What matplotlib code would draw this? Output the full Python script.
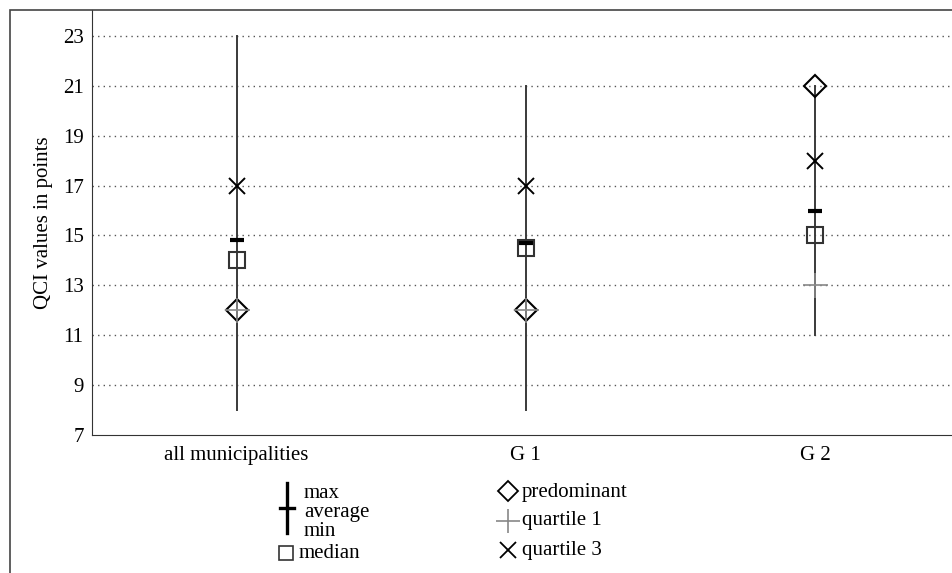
import matplotlib
matplotlib.use("Agg")
import matplotlib.pyplot as plt
from matplotlib.patches import Rectangle

plt.rcParams['font.family'] = ['Liberation Serif', 'DejaVu Serif']
plt.rcParams['font.size'] = 15

# QCI statistics per group
groups = ['all municipalities', 'G 1', 'G 2']
v_max = [23, 21, 21]
v_min = [8, 8, 11]
v_avg = [14.8, 14.7, 16]
v_median = [14, 14.5, 15]
v_predominant = [12, 12, 21]
v_q1 = [12, 12, 13]
v_q3 = [17, 17, 18]
yticks = [7, 9, 11, 13, 15, 17, 19, 21, 23]

W, H = 952, 573
fig = plt.figure(figsize=(W / 100, H / 100), dpi=100)

# outer frame (cut off on the right and bottom like the original)
fig.add_artist(Rectangle((10 / W, -0.05), 1.1, 1 - 10 / H + 0.05, transform=fig.transFigure,
                         fill=False, edgecolor='#444444', lw=1.2))

ax = fig.add_axes([92 / W, 1 - 435 / H, (959.5 - 92) / W, (435 - 10) / H])
x = list(range(len(groups)))

for i in x:
    ax.plot([i, i], [v_min[i], v_max[i]], color='#3a3a3a', lw=1.4, zorder=3)
ax.plot(x, v_avg, linestyle='none', marker='_', markersize=10.5, markeredgewidth=3,
        color='black', zorder=4)
ax.plot(x, v_median, linestyle='none', marker='s', markersize=11, markerfacecolor='none',
        markeredgecolor='#333333', markeredgewidth=1.5, zorder=4)
ax.plot(x, v_predominant, linestyle='none', marker='D', markersize=11, markerfacecolor='none',
        markeredgecolor='black', markeredgewidth=1.5, zorder=4)
ax.plot(x, v_q1, linestyle='none', marker='+', markersize=18, markeredgewidth=1.2,
        color='#888888', zorder=4)
ax.plot(x, v_q3, linestyle='none', marker='x', markersize=12, markeredgewidth=1.4,
        color='black', zorder=4)

ax.set_xlim(-0.5, 2.5)
ax.set_ylim(7, 7 + (435 - 10) / 24.94)
ax.set_xticks(x)
ax.set_xticklabels(groups)
ax.set_yticks(yticks)
ax.tick_params(length=0, pad=6)
ax.tick_params(axis='x', pad=8)
for t in yticks[1:]:
    ax.axhline(t, color='#555555', lw=1, linestyle=(0, (1, 3)), zorder=1)
ax.spines['top'].set_visible(False)
ax.spines['right'].set_visible(False)
ax.spines['left'].set_color('#333333')
ax.spines['bottom'].set_color('#333333')
ax.set_ylabel('QCI values in points', labelpad=7)

# legend drawn in pixel coordinates
lg = fig.add_axes([0, 0, 1, 1])
lg.set_xlim(0, W)
lg.set_ylim(H, 0)
lg.axis('off')
lg.patch.set_alpha(0)
lg.plot([287, 287], [483, 533], color='black', lw=2.4)
lg.plot([280, 294], [508, 508], color='black', lw=2.4)
lg.text(304, 494, 'max', va='center', ha='left')
lg.text(304, 513, 'average', va='center', ha='left')
lg.text(304, 532, 'min', va='center', ha='left')
lg.plot([286], [553], marker='s', markersize=10, markerfacecolor='none',
        markeredgecolor='#333333', markeredgewidth=1.2)
lg.text(299, 553, 'median', va='center', ha='left')
lg.plot([508], [491], marker='D', markersize=10.5, markerfacecolor='none',
        markeredgecolor='black', markeredgewidth=1.3)
lg.text(522, 492, 'predominant', va='center', ha='left')
lg.plot([508], [521], marker='+', markersize=17, markeredgewidth=1.2, color='#888888')
lg.text(522, 521, 'quartile 1', va='center', ha='left')
lg.plot([508], [550], marker='x', markersize=12, markeredgewidth=1.3, color='black')
lg.text(522, 550, 'quartile 3', va='center', ha='left')

fig.savefig('out.png', dpi=100)
